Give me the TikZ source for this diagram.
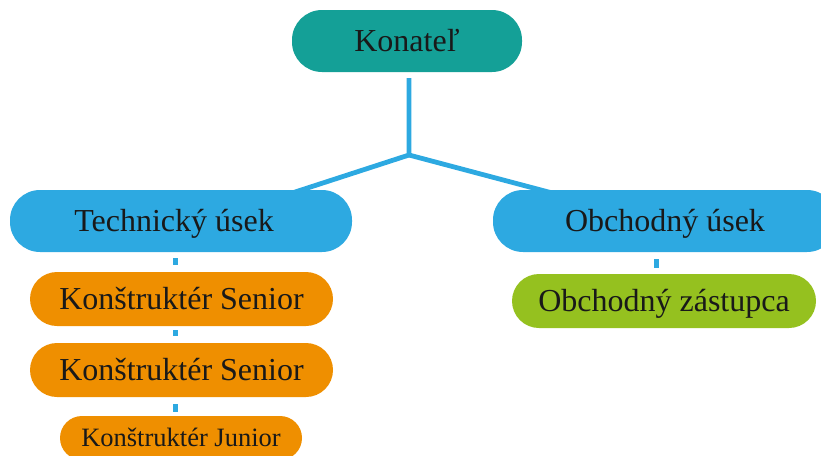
\documentclass[tikz,border=0pt]{standalone}
\usepackage{fontspec}
\setmainfont{Liberation Serif}
\definecolor{cteal}{HTML}{14A097}
\definecolor{cblue}{HTML}{2DA9E1}
\definecolor{corange}{HTML}{EF8F00}
\definecolor{cgreen}{HTML}{95C11F}
\begin{document}
\begin{tikzpicture}[x=1pt,y=-1pt,
  pill/.style={rounded corners=27pt, inner sep=0pt, text height=29pt, text depth=7.7pt, align=center,
    font=\fontsize{32}{38}\selectfont, text=black!90},
  link/.style={draw=cblue, line width=4.8pt},
  tick/.style={draw=cblue, line width=5pt}]
\useasboundingbox (0,0) rectangle (821,455);
\clip (0,0) rectangle (821,455);
% connectors (behind boxes)
\coordinate (j) at (409,155);
\coordinate (tl) at (289,194);
\coordinate (tr) at (556,194);
\coordinate (k0) at (409,78);
\draw[link] (k0) -- (j) -- (tl);
\draw[link] (j) -- (tr);
% boxes
\node[pill, rounded corners=30pt, fill=cteal, minimum width=230pt, minimum height=62pt] (kon) at (407,41) {Konateľ};
\node[pill, rounded corners=30pt, fill=cblue, minimum width=342pt, minimum height=62pt] (tech) at (181,221) {Technický úsek\hspace*{14pt}};
\node[pill, rounded corners=30pt, fill=cblue, minimum width=344pt, minimum height=62pt] (obch) at (665,221) {Obchodný úsek};
\node[pill, fill=corange, minimum width=303pt, minimum height=54pt] (s1) at (181.5,299) {Konštruktér Senior};
\node[pill, fill=corange, minimum width=303pt, minimum height=54pt] (s2) at (181.5,370) {Konštruktér Senior};
\node[pill, rounded corners=22pt, fill=corange, minimum width=242pt, minimum height=44pt,
  text height=24pt, text depth=6.5pt,
  font=\fontsize{26.5}{32}\selectfont] (jr) at (181,438) {Konštruktér Junior};
\node[pill, fill=cgreen, minimum width=304pt, minimum height=54pt] (zas) at (664,301) {Obchodný zástupca};
% short ticks between boxes
\coordinate (t1a) at (175,258); \coordinate (t1b) at (175,265);
\coordinate (t2a) at (175,330); \coordinate (t2b) at (175,336);
\coordinate (t3a) at (175,404); \coordinate (t3b) at (175,412);
\coordinate (t4a) at (656,259); \coordinate (t4b) at (656,268);
\draw[tick] (t1a) -- (t1b);
\draw[tick] (t2a) -- (t2b);
\draw[tick] (t3a) -- (t3b);
\draw[tick] (t4a) -- (t4b);
\end{tikzpicture}
\end{document}
